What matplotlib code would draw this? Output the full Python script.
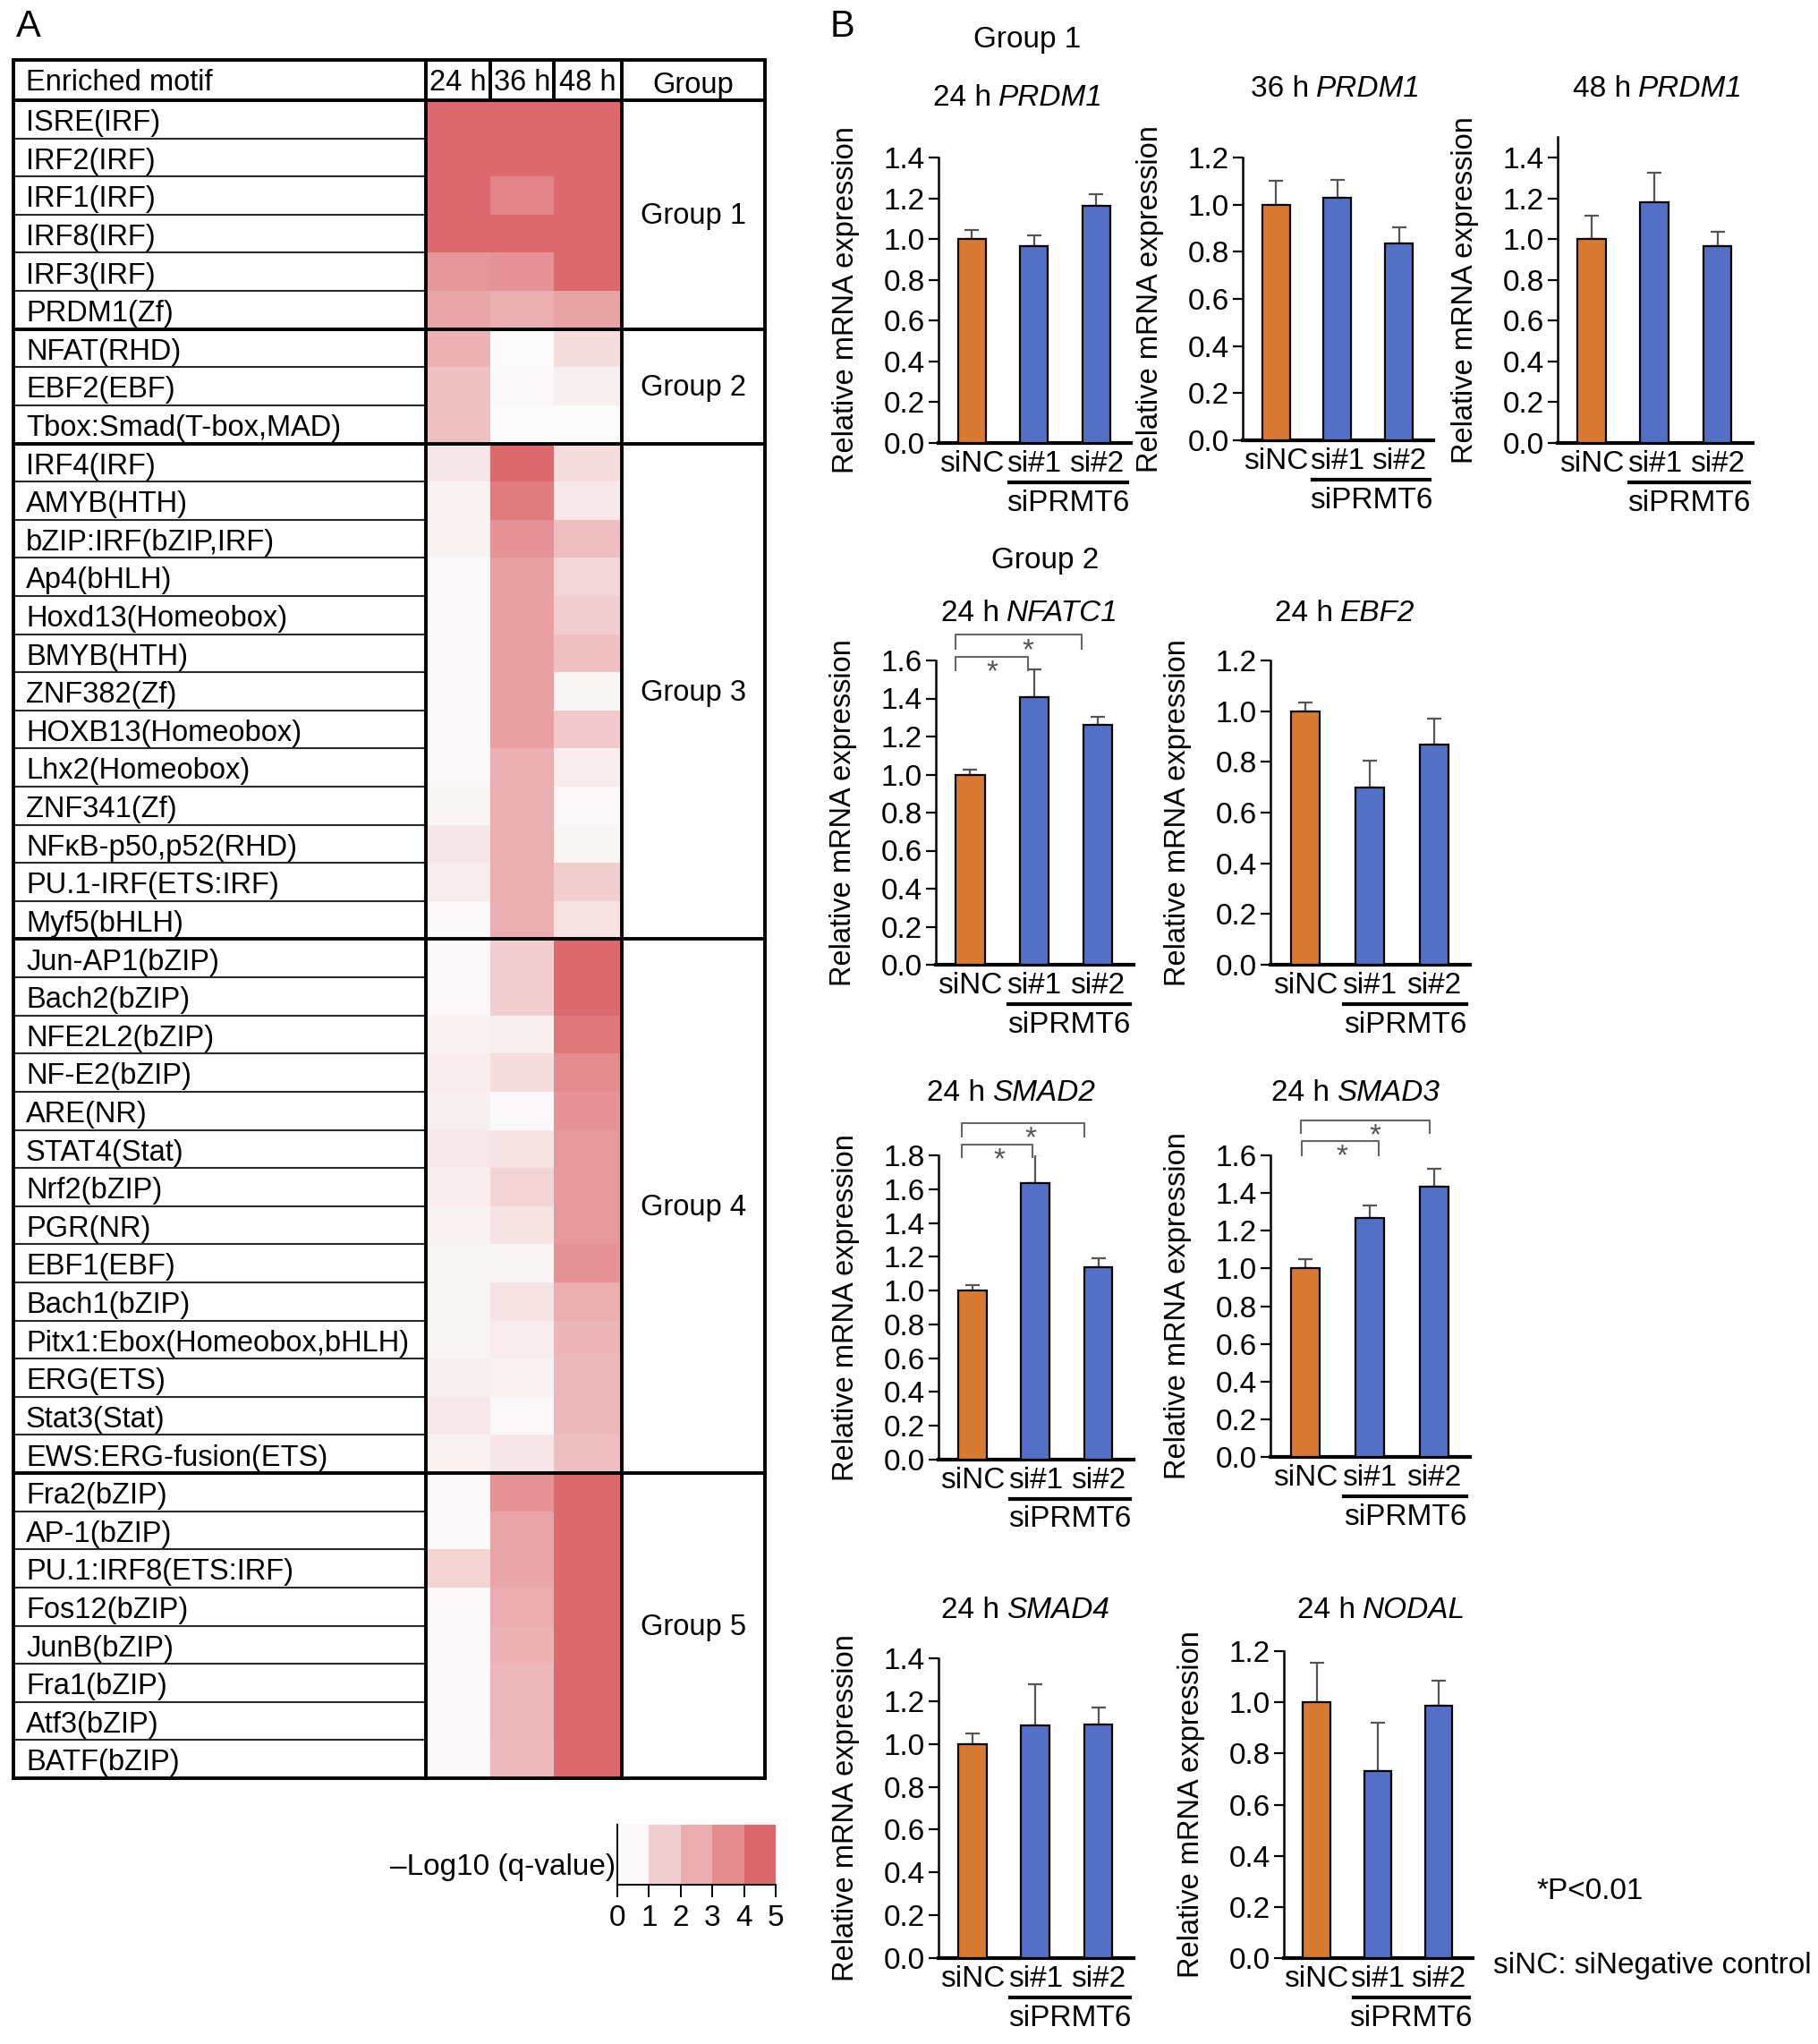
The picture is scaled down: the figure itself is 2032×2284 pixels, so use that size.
import numpy as np
import matplotlib.pyplot as plt
from matplotlib.colors import LinearSegmentedColormap, ListedColormap, BoundaryNorm
from matplotlib import transforms
from matplotlib.offsetbox import TextArea, HPacker, AnnotationBbox

plt.rcParams['font.family'] = ['Liberation Sans', 'DejaVu Sans']

W, H, DPI = 2032, 2284, 100

# ---------------- panel A data ----------------
motifs = ['ISRE(IRF)', 'IRF2(IRF)', 'IRF1(IRF)', 'IRF8(IRF)', 'IRF3(IRF)', 'PRDM1(Zf)',
          'NFAT(RHD)', 'EBF2(EBF)', 'Tbox:Smad(T-box,MAD)',
          'IRF4(IRF)', 'AMYB(HTH)', 'bZIP:IRF(bZIP,IRF)', 'Ap4(bHLH)', 'Hoxd13(Homeobox)',
          'BMYB(HTH)', 'ZNF382(Zf)', 'HOXB13(Homeobox)', 'Lhx2(Homeobox)', 'ZNF341(Zf)',
          'NFκB-p50,p52(RHD)', 'PU.1-IRF(ETS:IRF)', 'Myf5(bHLH)',
          'Jun-AP1(bZIP)', 'Bach2(bZIP)', 'NFE2L2(bZIP)', 'NF-E2(bZIP)', 'ARE(NR)',
          'STAT4(Stat)', 'Nrf2(bZIP)', 'PGR(NR)', 'EBF1(EBF)', 'Bach1(bZIP)',
          'Pitx1:Ebox(Homeobox,bHLH)', 'ERG(ETS)', 'Stat3(Stat)', 'EWS:ERG-fusion(ETS)',
          'Fra2(bZIP)', 'AP-1(bZIP)', 'PU.1:IRF8(ETS:IRF)', 'Fos12(bZIP)', 'JunB(bZIP)',
          'Fra1(bZIP)', 'Atf3(bZIP)', 'BATF(bZIP)']
group_names = ['Group 1', 'Group 2', 'Group 3', 'Group 4', 'Group 5']
group_sizes = [6, 3, 13, 14, 8]
time_points = ['24 h', '36 h', '48 h']

# -Log10(q-value)
q24 = [4.8, 4.8, 4.8, 4.8, 3.3, 2.8,
       2.4, 1.9, 1.9,
       0.7, 0.3, 0.3, 0.1, 0.1, 0.1, 0.1, 0.1, 0.1, 0.2, 0.7, 0.5, 0.1,
       0.1, 0.1, 0.3, 0.5, 0.4, 0.6, 0.5, 0.3, 0.2, 0.2, 0.2, 0.4, 0.6, 0.3,
       0.1, 0.1, 1.3, 0.1, 0.1, 0.1, 0.1, 0.1]
q36 = [4.8, 4.8, 3.9, 4.8, 3.4, 2.5,
       0.0, 0.1, 0.0,
       4.8, 4.2, 3.4, 3.0, 3.0, 3.0, 3.0, 3.0, 2.5, 2.5, 2.5, 2.5, 2.5,
       1.5, 1.5, 0.4, 1.0, 0.1, 0.8, 1.3, 0.8, 0.2, 0.8, 0.5, 0.3, 0.1, 0.7,
       3.4, 2.8, 2.8, 2.6, 2.4, 2.2, 2.2, 2.1]
q48 = [4.8, 4.8, 4.8, 4.8, 4.8, 2.9,
       1.0, 0.4, 0.0,
       1.0, 0.6, 2.0, 1.2, 1.5, 1.9, 0.2, 1.6, 0.5, 0.1, 0.2, 1.5, 0.8,
       4.8, 4.8, 4.3, 3.6, 3.4, 3.2, 3.2, 3.2, 3.4, 2.5, 2.3, 2.2, 2.2, 2.0,
       4.8, 4.8, 4.8, 4.8, 4.8, 4.8, 4.8, 4.8]
cbar_ticks = [0, 1, 2, 3, 4, 5]

# ---------------- panel B data ----------------
conditions = ['siNC', 'si#1', 'si#2']
prdm1_24 = [1.00, 0.965, 1.165]
prdm1_24_sd = [0.045, 0.055, 0.055]
prdm1_36 = [1.00, 1.03, 0.835]
prdm1_36_sd = [0.10, 0.075, 0.07]
prdm1_48 = [1.00, 1.18, 0.967]
prdm1_48_sd = [0.115, 0.145, 0.07]
nfatc1_24 = [1.00, 1.405, 1.26]
nfatc1_24_sd = [0.025, 0.15, 0.045]
ebf2_24 = [1.00, 0.70, 0.87]
ebf2_24_sd = [0.035, 0.105, 0.10]
smad2_24 = [1.00, 1.635, 1.14]
smad2_24_sd = [0.03, 0.17, 0.05]
smad3_24 = [1.00, 1.27, 1.435]
smad3_24_sd = [0.05, 0.065, 0.095]
smad4_24 = [1.00, 1.085, 1.09]
smad4_24_sd = [0.05, 0.195, 0.08]
nodal_24 = [1.00, 0.73, 0.985]
nodal_24_sd = [0.155, 0.19, 0.10]

orange = '#d97a32'
blue = '#5470c6'
red = '#db6367'

heat_cmap = LinearSegmentedColormap.from_list('wr', ['#fbfbfb', red])

fig = plt.figure(figsize=(W / DPI, H / DPI), dpi=DPI)


def px_axes(x0, y0, x1, y1):
    return fig.add_axes([x0 / W, 1 - y1 / H, (x1 - x0) / W, (y1 - y0) / H])


# ================= panel A =================
fig.text(18 / W, 1 - 30 / H, 'A', fontsize=30, va='center', ha='left')

tab_left, tab_right, tab_top, head_bot, tab_bot = 15, 855, 67, 112, 1987
n = len(motifs)
row_h = (tab_bot - head_bot) / n
head_rows = (head_bot - tab_top) / row_h
col_edges = [0, 461, 533, 604, 680, 840]

axA = px_axes(tab_left, tab_top, tab_right, tab_bot)
heat = np.column_stack([q24, q36, q48])
axA.pcolormesh(col_edges[1:5], np.arange(n + 1), heat, cmap=heat_cmap, vmin=0, vmax=5)
axA.set_xlim(col_edges[0], col_edges[-1])
axA.set_ylim(n, -head_rows)
axA.axis('off')

bounds = np.cumsum([0] + group_sizes)
for i in range(1, n):
    if i not in bounds:
        axA.plot([col_edges[0], col_edges[1]], [i, i], color='#2a2a2a', lw=1.5, clip_on=False)
for b in bounds[:-1]:
    axA.plot([col_edges[0], col_edges[-1]], [b, b], color='black', lw=2.8, clip_on=False)
axA.plot([col_edges[0], col_edges[-1]], [n, n], color='black', lw=2.8, clip_on=False)
axA.plot([col_edges[0], col_edges[-1]], [-head_rows, -head_rows], color='black', lw=2.8, clip_on=False)
for xe in [col_edges[0], col_edges[1], col_edges[4], col_edges[5]]:
    axA.plot([xe, xe], [-head_rows, n], color='black', lw=2.8, clip_on=False)
for xe in col_edges[2:4]:
    axA.plot([xe, xe], [-head_rows, 0], color='black', lw=2.8, clip_on=False)

fs_tab = 23.5
axA.text(14, -head_rows / 2 + 0.08, 'Enriched motif', fontsize=fs_tab, va='center', ha='left')
for j, tp in enumerate(time_points):
    axA.text((col_edges[j + 1] + col_edges[j + 2]) / 2, -head_rows / 2 + 0.08, tp,
             fontsize=fs_tab, va='center', ha='center')
axA.text((col_edges[4] + col_edges[5]) / 2, -head_rows / 2 + 0.15, 'Group',
         fontsize=fs_tab, va='center', ha='center')
for i, m in enumerate(motifs):
    axA.text(14, i + 0.6, m, fontsize=fs_tab, va='center', ha='left')
for g, name in enumerate(group_names):
    axA.text((col_edges[4] + col_edges[5]) / 2, (bounds[g] + bounds[g + 1]) / 2 + 0.05, name,
             fontsize=fs_tab, va='center', ha='center')

# colour key
cbar_cmap = ListedColormap(heat_cmap(np.array([0.02, 0.3, 0.52, 0.74, 0.97])))
axC = px_axes(690, 2039, 867, 2106)
axC.pcolormesh(cbar_ticks, [0, 1], [np.arange(5) + 0.5], cmap=cbar_cmap,
               norm=BoundaryNorm(cbar_ticks, 5))
axC.set_xlim(0, 5)
axC.set_ylim(0, 1)
axC.set_xticks(cbar_ticks)
axC.set_yticks([])
for s in ['top', 'right']:
    axC.spines[s].set_visible(False)
axC.spines['left'].set_linewidth(1.4)
axC.spines['bottom'].set_linewidth(1.4)
axC.tick_params(axis='x', length=10, width=1.4, labelsize=24, pad=6)
fig.text(688 / W, 1 - 2086 / H, '–Log10 (q-value)', fontsize=24, ha='right', va='center')

# ================= panel B =================
fig.text(928 / W, 1 - 30 / H, 'B', fontsize=30, va='center', ha='left')
fig.text(1148 / W, 1 - 44 / H, 'Group 1', fontsize=24, va='center', ha='center')
fig.text(1168 / W, 1 - 626 / H, 'Group 2', fontsize=24, va='center', ha='center')


def offset_trans(ax, dy_px):
    return ax.get_xaxis_transform() + transforms.ScaledTranslation(0, -dy_px / DPI, fig.dpi_scale_trans)


def gene_title(prefix, gene, tx, ty):
    box = HPacker(children=[TextArea(prefix, textprops=dict(fontsize=24)),
                            TextArea(gene, textprops=dict(fontsize=24, fontstyle='italic'))],
                  sep=6, align='baseline', pad=0)
    ab = AnnotationBbox(box, (tx / W, 1 - ty / H), xycoords='figure fraction',
                        box_alignment=(0.5, 0.5), frameon=False, pad=0)
    fig.add_artist(ab)


def bar_panel(x0, x1, y_tick, y0, ymax, ticktop, prefix, gene, tx, ty, vals, errs, sig=None):
    top = y0 - (y0 - y_tick) * ymax / ticktop
    ax = px_axes(x0, top, x1, y0)
    x = np.arange(len(conditions))
    ax.bar(x, vals, width=0.45, color=[orange, blue, blue], edgecolor='black',
           linewidth=1.6, zorder=3)
    ax.errorbar(x, vals, yerr=[np.zeros(len(vals)), errs], fmt='none', ecolor='#555555',
                elinewidth=1.6, capsize=6, capthick=1.6, zorder=2)
    ax.set_xlim(-0.54, 2.56)
    ax.set_ylim(0, ymax)
    yt = np.round(np.arange(0, ticktop + 0.001, 0.2), 1)
    ax.set_yticks(yt)
    ax.set_yticklabels([f'{t:.1f}' for t in yt])
    ax.set_xticks(x)
    ax.set_xticklabels(conditions)
    ax.tick_params(axis='x', length=0, labelsize=24, pad=6)
    ax.tick_params(axis='y', length=8, width=1.6, labelsize=24, pad=3)
    for s in ['top', 'right']:
        ax.spines[s].set_visible(False)
    ax.spines['left'].set_linewidth(1.8)
    ax.spines['bottom'].set_linewidth(3.0)
    ax.set_ylabel('Relative mRNA expression', fontsize=23.5)
    ax.yaxis.set_label_coords(-88 / (x1 - x0), 0.5)
    # siPRMT6 underline
    ax.plot([0.6, 2.5], [0, 0], color='black', lw=3, transform=offset_trans(ax, 44), clip_on=False)
    ax.text(1.55, 0, 'siPRMT6', fontsize=24, ha='center', va='center',
            transform=offset_trans(ax, 67))
    gene_title(prefix, gene, tx, ty)
    if sig:
        for (xa, xb, yl, yd, xs) in sig:
            ax.plot([xa, xa, xb, xb], [yd, yl, yl, yd], color='#666666', lw=1.5, clip_on=False)
            ax.text(xs, yl - 0.012, '*', fontsize=24, color='#555555', ha='center', va='top',
                    clip_on=False)
    return ax


bar_panel(1049, 1264, 176, 495, 1.4, 1.4, '24 h', 'PRDM1', 1138, 109, prdm1_24, prdm1_24_sd)
bar_panel(1389, 1602, 176, 492, 1.2, 1.2, '36 h', 'PRDM1', 1493, 100, prdm1_36, prdm1_36_sd)
bar_panel(1741, 1959, 176, 495, 1.5, 1.4, '48 h', 'PRDM1', 1853, 100, prdm1_48, prdm1_48_sd)

bar_panel(1046, 1267, 738, 1078, 1.6, 1.6, '24 h', 'NFATC1', 1151, 686, nfatc1_24, nfatc1_24_sd,
          sig=[(-0.23, 1.74, 1.735, 1.663, 0.9), (-0.23, 0.9, 1.618, 1.546, 0.34)])
bar_panel(1420, 1643, 738, 1078, 1.2, 1.2, '24 h', 'EBF2', 1503, 686, ebf2_24, ebf2_24_sd)

bar_panel(1049, 1267, 1291, 1631, 1.8, 1.8, '24 h', 'SMAD2', 1130, 1221, smad2_24, smad2_24_sd,
          sig=[(-0.17, 1.78, 1.989, 1.913, 0.93), (-0.17, 0.95, 1.866, 1.79, 0.43)])
bar_panel(1420, 1643, 1291, 1628, 1.6, 1.6, '24 h', 'SMAD3', 1515, 1221, smad3_24, smad3_24_sd,
          sig=[(-0.07, 1.94, 1.787, 1.72, 1.09), (-0.05, 1.14, 1.677, 1.60, 0.57)])

bar_panel(1049, 1267, 1853, 2188, 1.4, 1.4, '24 h', 'SMAD4', 1146, 1800, smad4_24, smad4_24_sd)
bar_panel(1435, 1646, 1845, 2188, 1.2, 1.2, '24 h', 'NODAL', 1544, 1800, nodal_24, nodal_24_sd)

fig.text(1777 / W, 1 - 2113 / H, '*P<0.01', fontsize=24, ha='center', va='center')
fig.text(1847 / W, 1 - 2197 / H, 'siNC: siNegative control', fontsize=24, ha='center', va='center')

fig.savefig('out.png', dpi=DPI, facecolor='white')
